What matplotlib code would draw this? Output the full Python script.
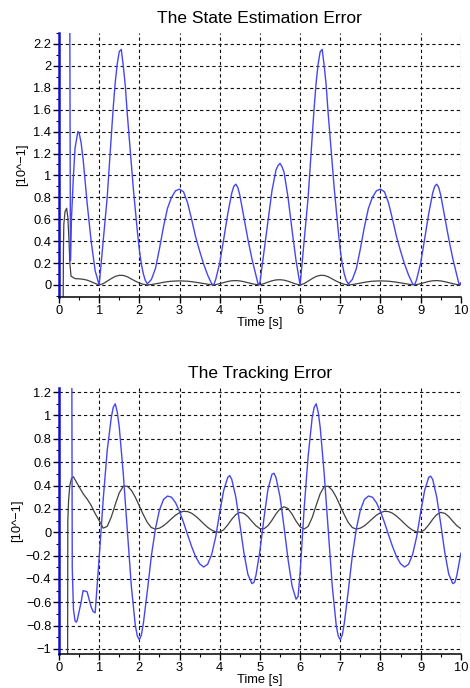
import matplotlib
matplotlib.use("Agg")
import matplotlib.pyplot as plt
from matplotlib.ticker import MultipleLocator, FuncFormatter
import numpy as np

plt.rcParams["font.family"] = ["Liberation Sans", "DejaVu Sans"]

# ---- state estimation error ----
est_blue_head_t = [0.0, 0.265, 0.285, 0.31, 0.36, 0.4, 0.47]
est_blue_head_v = [3.0, 3.0, 0.22, 0.6, 1.0, 1.25, 1.40]
est_blue_grid_t = np.round(np.arange(5, 101) * 0.1, 1)   # 0.5 .. 10.0
est_blue_grid_v = [
    1.39, 1.15, 0.75, 0.4, 0.13, 0.0,
    0.4, 0.8, 1.35, 1.85, 2.13, 2.0, 1.56, 1.1, 0.68, 0.32, 0.1, 0.01,
    0.05, 0.15, 0.33, 0.53, 0.70, 0.80, 0.86, 0.875, 0.85, 0.75, 0.6, 0.44, 0.31, 0.19, 0.09, 0.01,
    0.05, 0.2, 0.42, 0.65, 0.84, 0.92, 0.82, 0.62, 0.42, 0.24, 0.09,
    0.02, 0.3, 0.58, 0.86, 1.05, 1.11, 1.03, 0.8, 0.5, 0.22, 0.0,
    0.4, 0.8, 1.35, 1.85, 2.13, 2.0, 1.56, 1.1, 0.68, 0.32, 0.1, 0.01,
    0.05, 0.15, 0.33, 0.53, 0.70, 0.80, 0.86, 0.875, 0.85, 0.75, 0.6, 0.44, 0.31, 0.19, 0.09, 0.01,
    0.05, 0.2, 0.42, 0.65, 0.84, 0.92, 0.82, 0.62, 0.42, 0.24, 0.09,
    0.02,
]
# extra readings around the sharper humps
est_blue_extra_t = [0.55, 0.65, 1.05, 1.15, 1.25, 1.35, 1.45, 1.55, 1.65, 1.75, 1.85,
                    1.95, 2.05, 2.15, 3.85, 4.35, 4.45, 4.96, 5.45, 5.55,
                    6.05, 6.15, 6.25, 6.35, 6.45, 6.55, 6.65, 6.75, 6.85, 6.95,
                    7.05, 7.15, 8.85, 9.35, 9.45, 9.96]
est_blue_extra_v = [1.30, 0.95, 0.2, 0.6, 1.08, 1.62, 2.02, 2.15, 1.82, 1.33, 0.88,
                    0.49, 0.19, 0.04, 0.0, 0.9, 0.89, 0.0, 1.09, 1.08,
                    0.2, 0.6, 1.08, 1.62, 2.02, 2.15, 1.82, 1.33, 0.88, 0.49,
                    0.19, 0.04, 0.0, 0.9, 0.89, 0.0]

est_black_head_t = [0.1, 0.11, 0.12, 0.15, 0.19, 0.22, 0.25, 0.27]
est_black_head_v = [-0.5, 0.3, 0.55, 0.67, 0.70, 0.62, 0.4, 0.2]
est_black_grid_t = np.round(np.arange(3, 101) * 0.1, 1)  # 0.3 .. 10.0
est_black_grid_v = [
    0.08, 0.058, 0.056, 0.052, 0.044, 0.03, 0.014, 0.0,
    0.012, 0.035, 0.058, 0.078, 0.088, 0.087, 0.075, 0.055, 0.035, 0.018, 0.006, 0.0,
    0.004, 0.01, 0.017, 0.024, 0.03, 0.034, 0.036, 0.037, 0.036, 0.034, 0.03, 0.025, 0.019, 0.013, 0.007, 0.002,
    0.003, 0.012, 0.022, 0.032, 0.038, 0.04, 0.037, 0.03, 0.021, 0.012, 0.004,
    0.002, 0.012, 0.026, 0.038, 0.046, 0.048, 0.044, 0.034, 0.021, 0.008, 0.0,
    0.012, 0.035, 0.058, 0.078, 0.088, 0.087, 0.075, 0.055, 0.035, 0.018, 0.006, 0.0,
    0.004, 0.01, 0.017, 0.024, 0.03, 0.034, 0.036, 0.037, 0.036, 0.034, 0.03, 0.025, 0.019, 0.013, 0.007, 0.002,
    0.003, 0.012, 0.022, 0.032, 0.038, 0.04, 0.037, 0.03, 0.021, 0.012, 0.004,
    0.002,
]

# ---- tracking error ----
trk_blue_head_t = [0.0, 0.31, 0.33, 0.36, 0.4, 0.43]
trk_blue_head_v = [3.0, 3.0, -0.3, -0.66, -0.76, -0.77]
trk_blue_grid_t = np.round(np.arange(5, 101) * 0.1, 1)   # 0.5 .. 10.0
trk_blue_grid_v = [
    -0.68, -0.50, -0.51, -0.64, -0.69, -0.22,
    0.28, 0.7, 0.98, 1.1, 0.9, 0.5, 0.02, -0.46, -0.8, -0.92,
    -0.78, -0.5, -0.2, 0.03, 0.19, 0.28, 0.31,
    0.30, 0.253, 0.178, 0.083, -0.021, -0.122, -0.209, -0.27, -0.298,
    -0.274, -0.19, -0.04, 0.17, 0.36, 0.47,
    0.452, 0.302, 0.072, -0.172, -0.36, -0.44, -0.371,
    -0.161, 0.118, 0.367, 0.497, 0.469, 0.304, 0.047, -0.232, -0.46, -0.574,
    -0.35, 0.2, 0.65, 0.98, 1.1, 0.9, 0.5, 0.02, -0.46, -0.8, -0.92,
    -0.78, -0.5, -0.2, 0.03, 0.19, 0.28, 0.31,
    0.30, 0.253, 0.178, 0.083, -0.021, -0.122, -0.209, -0.27, -0.298,
    -0.274, -0.19, -0.04, 0.17, 0.36, 0.47,
    0.452, 0.302, 0.072, -0.172, -0.36, -0.44, -0.371, -0.18,
]
trk_blue_extra_t = [0.45, 0.55, 0.85, 1.35, 1.45, 1.95, 2.05, 4.25, 4.85, 5.35,
                    5.95, 6.35, 6.45, 6.95, 7.05, 9.25, 9.85]
trk_blue_extra_v = [-0.76, -0.6, -0.68, 1.07, 1.03, -0.89, -0.88, 0.485, -0.43, 0.505,
                    -0.55, 1.07, 1.03, -0.89, -0.88, 0.48, -0.43]

trk_black_head_t = [0.0, 0.21, 0.22, 0.24, 0.27, 0.31, 0.36, 0.4]
trk_black_head_v = [-2.0, -2.0, 0.1, 0.28, 0.40, 0.46, 0.475, 0.45]
trk_black_grid_t = np.round(np.arange(5, 101) * 0.1, 1)  # 0.5 .. 10.0
trk_black_grid_v = [
    0.39, 0.33, 0.285, 0.23, 0.16, 0.1, 0.035,
    0.05, 0.129, 0.237, 0.337, 0.394, 0.394, 0.36, 0.30, 0.225, 0.149, 0.083, 0.04, 0.027,
    0.035, 0.055, 0.084, 0.116, 0.146, 0.168, 0.179,
    0.177, 0.163, 0.138, 0.107, 0.073, 0.042, 0.018, 0.003, 0.001,
    0.022, 0.063, 0.111, 0.151, 0.17, 0.162, 0.134, 0.094, 0.056, 0.031,
    0.029, 0.056, 0.103, 0.157, 0.2, 0.218, 0.203, 0.155, 0.095, 0.046, 0.027,
    0.05, 0.125, 0.23, 0.33, 0.39, 0.394, 0.36, 0.30, 0.225, 0.149, 0.083, 0.04, 0.027,
    0.035, 0.055, 0.084, 0.116, 0.146, 0.168, 0.179,
    0.177, 0.163, 0.138, 0.107, 0.073, 0.042, 0.018, 0.003, 0.001,
    0.022, 0.063, 0.111, 0.151, 0.17, 0.162, 0.134, 0.094, 0.056, 0.031,
]

BLUE = "#4646f0"
DARK = "#404040"


def _series(*parts):
    t = np.concatenate([p[0] for p in parts]).astype(float)
    v = np.concatenate([p[1] for p in parts]).astype(float)
    order = np.argsort(t, kind="stable")
    return t[order], v[order]


def _fmt(v, _):
    v = round(v, 6)
    if v == 0:
        v = 0.0
    return f"{v:g}".replace("-", "\u2212")


def style_axes(ax, ylim, title, label_x):
    ax.set_xlim(0, 10)
    ax.set_ylim(*ylim)
    ax.xaxis.set_major_locator(MultipleLocator(1))
    ax.xaxis.set_minor_locator(MultipleLocator(0.5))
    ax.yaxis.set_major_locator(MultipleLocator(0.2))
    ax.yaxis.set_minor_locator(MultipleLocator(0.1))
    ax.yaxis.set_major_formatter(FuncFormatter(_fmt))
    ax.xaxis.set_major_formatter(FuncFormatter(_fmt))
    ax.tick_params(which="major", direction="out", length=4, width=1,
                   labelsize=9.3, pad=1.5)
    ax.tick_params(which="minor", direction="out", length=2.5, width=0.8)
    ax.spines["top"].set_visible(False)
    ax.spines["right"].set_visible(False)
    ax.spines["left"].set_color("#1010d0")
    ax.spines["left"].set_linewidth(1.8)
    ax.spines["bottom"].set_linewidth(1.1)
    ax.grid(True, which="major", color="#111111", linestyle=(0, (3, 2.5)),
            linewidth=0.8)
    ax.set_title(title, fontsize=12.5, pad=7)
    ax.set_xlabel("Time [s]", fontsize=9.3, labelpad=0)
    ax.set_ylabel("[10^\u22121]", fontsize=9.3)
    ax.yaxis.set_label_coords(label_x, 0.5)


fig = plt.figure(figsize=(4.7, 6.88), dpi=100)
ax1 = fig.add_axes([0.1255, 0.5683, 0.855, 0.3837])
ax2 = fig.add_axes([0.1255, 0.0494, 0.855, 0.3866])

t, v = _series((est_black_head_t, est_black_head_v), (est_black_grid_t, est_black_grid_v))
ax1.plot(t, v, color=DARK, linewidth=0.9)
t, v = _series((est_blue_head_t, est_blue_head_v), (est_blue_grid_t, est_blue_grid_v),
               (est_blue_extra_t, est_blue_extra_v))
ax1.plot(t, v, color=BLUE, linewidth=1.0)
style_axes(ax1, (-0.11, 2.30), "The State Estimation Error", -0.077)

t, v = _series((trk_black_head_t, trk_black_head_v), (trk_black_grid_t, trk_black_grid_v))
ax2.plot(t, v, color=DARK, linewidth=0.9)
t, v = _series((trk_blue_head_t, trk_blue_head_v), (trk_blue_grid_t, trk_blue_grid_v),
               (trk_blue_extra_t, trk_blue_extra_v))
ax2.plot(t, v, color=BLUE, linewidth=1.0)
style_axes(ax2, (-1.043, 1.235), "The Tracking Error", -0.09)

fig.savefig("out.png", dpi=100)
plt.close(fig)
